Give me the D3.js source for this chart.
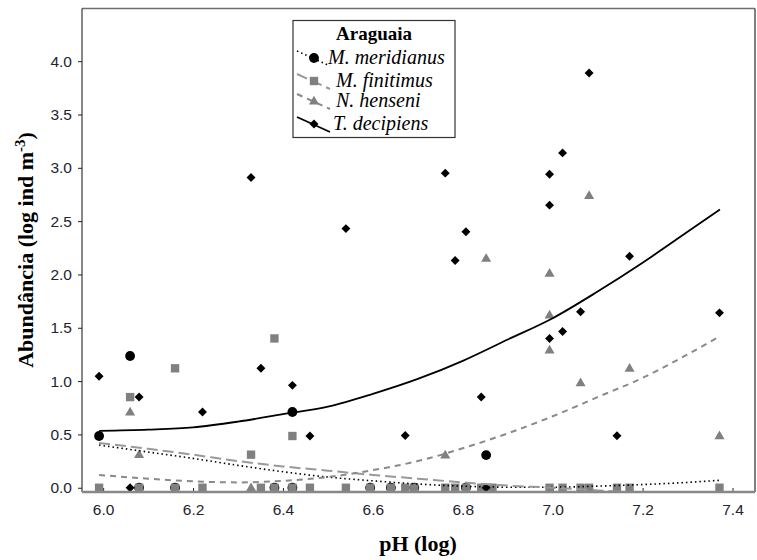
<!DOCTYPE html>
<html>
<head>
<meta charset="utf-8">
<script src="https://cdn.jsdelivr.net/npm/d3@7"></script>
<style>
  body { margin: 0; background: #fff; }
  svg { display: block; }
</style>
</head>
<body>
<svg id="chart" width="757" height="560"></svg>
<script>
// tick labels
const xTicks = [6.0, 6.2, 6.4, 6.6, 6.8, 7.0, 7.2, 7.4];
const yTicks = [0, 0.5, 1.0, 1.5, 2.0, 2.5, 3.0, 3.5, 4.0];

// observed points [pH, abundance]
const meridianusPts = [
  [5.991, 0.485], [6.060, 1.235], [6.421, 0.71], [6.852, 0.306],
  [6.080, 0], [6.160, 0], [6.381, 0], [6.421, 0], [6.594, 0], [6.640, 0], [6.692, 0], [6.807, 0]
];
const finitimusPts = [
  [6.060, 0.85], [6.160, 1.12], [6.381, 1.40], [6.329, 0.31], [6.421, 0.485],
  [5.991, 0], [6.080, 0], [6.160, 0], [6.221, 0], [6.351, 0], [6.381, 0], [6.421, 0], [6.460, 0],
  [6.540, 0], [6.594, 0], [6.640, 0], [6.672, 0], [6.692, 0], [6.761, 0], [6.783, 0], [6.807, 0],
  [6.841, 0], [6.866, 0], [6.993, 0], [7.022, 0], [7.062, 0], [7.081, 0], [7.143, 0], [7.171, 0], [7.371, 0]
];
const hensenPts = [
  [6.060, 0.71], [6.080, 0.31], [6.329, 0], [6.761, 0.306], [6.852, 2.15], [6.993, 2.01],
  [6.993, 1.62], [6.993, 1.29], [7.062, 0.984], [7.081, 2.74], [7.171, 1.12], [7.371, 0.487]
];
const decipiensPts = [
  [5.991, 1.045], [6.060, 0], [6.080, 0.85], [6.221, 0.71], [6.329, 2.91], [6.351, 1.12],
  [6.421, 0.96], [6.460, 0.485], [6.540, 2.43], [6.672, 0.49], [6.761, 2.95], [6.783, 2.13],
  [6.807, 2.40], [6.841, 0.85], [6.852, 0], [6.993, 2.94], [6.993, 2.65], [6.993, 1.40],
  [7.022, 3.14], [7.022, 1.466], [7.062, 1.65], [7.081, 3.89], [7.143, 0.487], [7.171, 2.17], [7.371, 1.64]
];

// fitted curves
const meridianusFit = [
  [5.991, 0.40], [6.1, 0.335], [6.2, 0.275], [6.3, 0.21], [6.4, 0.15], [6.5, 0.10], [6.6, 0.065],
  [6.7, 0.035], [6.8, 0.015], [6.9, 0.005], [7.0, 0.005], [7.1, 0.015], [7.2, 0.03], [7.3, 0.05], [7.372, 0.07]
];
const finitimusFit = [
  [5.991, 0.42], [6.1, 0.365], [6.2, 0.31], [6.3, 0.25], [6.4, 0.20], [6.5, 0.16], [6.6, 0.12],
  [6.7, 0.085], [6.8, 0.05], [6.9, 0.02], [7.0, 0.0], [7.1, -0.025], [7.18, -0.045]
];
const hensenFit = [
  [5.991, 0.12], [6.1, 0.085], [6.2, 0.06], [6.3, 0.05], [6.4, 0.065], [6.5, 0.10], [6.6, 0.165],
  [6.7, 0.25], [6.8, 0.37], [6.9, 0.51], [7.0, 0.67], [7.1, 0.85], [7.2, 1.03], [7.3, 1.25], [7.372, 1.42]
];
const decipiensFit = [
  [5.991, 0.534], [6.1, 0.545], [6.2, 0.566], [6.3, 0.62], [6.4, 0.69], [6.5, 0.76], [6.6, 0.88],
  [6.7, 1.02], [6.8, 1.19], [6.9, 1.39], [7.0, 1.59], [7.1, 1.84], [7.2, 2.11], [7.3, 2.40], [7.372, 2.61]
];

const legendNames = ["M. meridianus", "M. finitimus", "N. henseni", "T. decipiens"];

const svg = d3.select("#chart");
const mLeft = 82, mRight = 755, mTop = 8.5, mBottom = 492;

const x = d3.scaleLinear().domain([5.953, 7.450]).range([mLeft, mRight]);
const y = d3.scaleLinear().domain([-0.04, 4.494]).range([mBottom, mTop]);

svg.append("defs").append("clipPath").attr("id", "plot")
  .append("rect").attr("x", mLeft).attr("y", mTop).attr("width", mRight - mLeft).attr("height", mBottom - mTop);

// axes
const yAxis = svg.append("g").attr("transform", `translate(${mLeft},0)`)
  .call(d3.axisLeft(y).tickValues(yTicks).tickFormat(d3.format(".1f")).tickSize(4).tickPadding(6));
const xAxis = svg.append("g").attr("transform", `translate(0,${mBottom})`)
  .call(d3.axisBottom(x).tickValues(xTicks).tickFormat(d3.format(".1f")).tickSizeInner(-4).tickSizeOuter(0).tickPadding(12));
[yAxis, xAxis].forEach(g => {
  g.select(".domain").remove();
  g.selectAll("text").attr("font-family", "Liberation Sans, Arial, sans-serif").attr("font-size", 15.5).attr("fill", "#1e2430");
  g.selectAll("line").attr("stroke", "#222");
});

// frame
svg.append("line").attr("x1", mLeft).attr("x2", mRight).attr("y1", mTop).attr("y2", mTop)
  .attr("stroke", "#6e6e6e").attr("stroke-width", 1.5);
svg.append("line").attr("x1", mRight).attr("x2", mRight).attr("y1", mTop).attr("y2", mBottom)
  .attr("stroke", "#555").attr("stroke-width", 1.5);
svg.append("line").attr("x1", mLeft).attr("x2", mLeft).attr("y1", mTop).attr("y2", mBottom)
  .attr("stroke", "#111").attr("stroke-width", 1);

// styles per species
const species = [
  { pts: meridianusPts, fit: meridianusFit, color: "#000", line: "#000", dash: "1.5,3", width: 1.6, shape: "circle" },
  { pts: finitimusPts, fit: finitimusFit, color: "#808080", line: "#999", dash: "11,5", width: 2, shape: "square" },
  { pts: hensenPts, fit: hensenFit, color: "#808080", line: "#8a8a8a", dash: "6,5", width: 2, shape: "triangle" },
  { pts: decipiensPts, fit: decipiensFit, color: "#000", line: "#000", dash: null, width: 1.8, shape: "diamond" }
];

const symbolGen = {
  circle: d3.symbol().type(d3.symbolCircle).size(76),
  square: d3.symbol().type(d3.symbolSquare).size(70),
  triangle: d3.symbol().type(d3.symbolTriangle).size(44),
  diamond: d3.symbol().type(d3.symbolSquare).size(40)
};

function marker(g, s, px, py) {
  const p = g.append("path").attr("d", symbolGen[s.shape]()).attr("fill", s.color);
  if (s.shape === "diamond") p.attr("transform", `translate(${px},${py}) rotate(45)`);
  else if (s.shape === "triangle") p.attr("transform", `translate(${px},${py + 0.5})`);
  else p.attr("transform", `translate(${px},${py})`);
}

const plot = svg.append("g").attr("clip-path", "url(#plot)");

// points
species.forEach(s => {
  s.pts.forEach(d => marker(plot, s, x(d[0]), y(d[1])));
});

// fitted lines
const line = d3.line().x(d => x(d[0])).y(d => y(d[1])).curve(d3.curveMonotoneX);
species.forEach(s => {
  plot.append("path").datum(s.fit).attr("d", line)
    .attr("fill", "none").attr("stroke", s.line).attr("stroke-width", s.width)
    .attr("stroke-dasharray", s.dash);
});

// bottom axis line drawn over markers
svg.append("line").attr("x1", mLeft).attr("x2", mRight).attr("y1", mBottom).attr("y2", mBottom)
  .attr("stroke", "#888").attr("stroke-width", 2.5);

// axis titles
svg.append("text").attr("x", 418).attr("y", 551).attr("text-anchor", "middle")
  .attr("font-family", "Liberation Serif, Times New Roman, serif").attr("font-weight", "bold").attr("font-size", 22)
  .text("pH (log)");
const yt = svg.append("text").attr("transform", "translate(33,250) rotate(-90)").attr("text-anchor", "middle")
  .attr("font-family", "Liberation Serif, Times New Roman, serif").attr("font-weight", "bold").attr("font-size", 22);
yt.append("tspan").text("Abundância (log ind m");
yt.append("tspan").attr("dy", -8).attr("font-size", 15).text("-3");
yt.append("tspan").attr("dy", 8).text(")");

// legend
const lg = svg.append("g");
lg.append("rect").attr("x", 293).attr("y", 20.5).attr("width", 162).attr("height", 117)
  .attr("fill", "#fff").attr("stroke", "#333").attr("stroke-width", 1.2);
lg.append("text").attr("x", 374).attr("y", 40).attr("text-anchor", "middle")
  .attr("font-family", "Liberation Serif, Times New Roman, serif").attr("font-weight", "bold").attr("font-size", 19)
  .text("Araguaia");
const rowY = [58, 81, 101, 124];
const textX = [328, 336, 336, 333];
species.forEach((s, i) => {
  const cy = rowY[i];
  lg.append("line").attr("x1", 297).attr("y1", cy - 7).attr("x2", 330).attr("y2", cy + 8)
    .attr("stroke", s.line).attr("stroke-width", s.width).attr("stroke-dasharray", s.dash);
  marker(lg, s, 314, cy);
  lg.append("text").attr("x", textX[i]).attr("y", cy + 6)
    .attr("font-family", "Liberation Serif, Times New Roman, serif").attr("font-style", "italic").attr("font-size", 20)
    .text(legendNames[i]);
});
</script>
</body>
</html>
